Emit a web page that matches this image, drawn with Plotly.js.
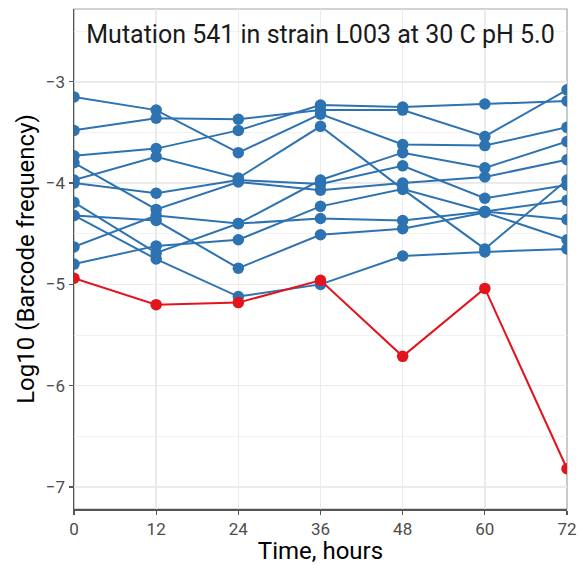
<!DOCTYPE html>
<html>
<head>
<meta charset="utf-8">
<script src="https://cdn.plot.ly/plotly-3.0.1.min.js"></script>
<style>
  html, body { margin: 0; padding: 0; background: #ffffff; }
  #chart { width: 579px; height: 565px; }
</style>
</head>
<body>
<div id="chart"></div>
<script>
// Time points (hours)
const hours = [0, 12, 24, 36, 48, 60, 72];

// Log10 barcode frequency of the other barcodes (blue)
const barcodeA = [-3.15, -3.28, -3.70, -3.32, -3.62, -3.63, -3.45];
const barcodeB = [-3.48, -3.36, -3.37, -3.28, -3.28, -3.54, -3.08];
const barcodeC = [-3.73, -3.66, -3.48, -3.23, -3.25, -3.22, -3.19];
const barcodeD = [-3.97, -3.74, -3.95, -3.44, -4.06, -4.65, -3.97];
const barcodeE = [-3.80, -4.26, -3.99, -4.07, -4.00, -3.94, -3.77];
const barcodeF = [-4.00, -4.10, -3.97, -4.01, -3.83, -4.15, -4.02];
const barcodeG = [-4.19, -4.69, -4.40, -4.35, -4.37, -4.28, -4.36];
const barcodeH = [-4.32, -4.37, -4.84, -4.51, -4.45, -4.29, -4.56];
const barcodeI = [-4.63, -4.32, -4.40, -3.97, -3.70, -3.85, -3.59];
const barcodeJ = [-4.80, -4.62, -4.56, -4.23, -4.06, -4.28, -4.17];
const barcodeK = [-4.32, -4.75, -5.12, -5.00, -4.72, -4.68, -4.65];

// Highlighted mutation barcode (red)
const mutation541 = [-4.94, -5.20, -5.18, -4.96, -5.71, -5.04, -6.82];

const blueSeries = [barcodeA, barcodeB, barcodeC, barcodeD, barcodeE, barcodeF,
                    barcodeG, barcodeH, barcodeI, barcodeJ, barcodeK];

const xTicks = [0, 12, 24, 36, 48, 60, 72];
const yTicks = [-7, -6, -5, -4, -3];
const yTickText = ['\u22127', '\u22126', '\u22125', '\u22124', '\u22123'];

const titleText = 'Mutation 541 in strain L003 at 30 C pH 5.0';
const xTitle = 'Time, hours';
const yTitle = 'Log10 (Barcode frequency)';

const BLUE = '#2d73b2';
const RED = '#e3141c';

const traces = blueSeries.map(vals => ({
  x: hours, y: vals, type: 'scatter', mode: 'lines+markers',
  line: {color: BLUE, width: 2},
  marker: {color: BLUE, size: 11.5},
  hoverinfo: 'skip', showlegend: false
}));
traces.push({
  x: hours, y: mutation541, type: 'scatter', mode: 'lines+markers',
  line: {color: RED, width: 2},
  marker: {color: RED, size: 11.5},
  hoverinfo: 'skip', showlegend: false
});

const layout = {
  width: 579, height: 565,
  margin: {l: 74, r: 12, t: 9, b: 56, pad: 0},
  paper_bgcolor: '#ffffff',
  plot_bgcolor: '#ffffff',
  font: {family: 'Roboto, "Open Sans", sans-serif', color: '#000000'},
  showlegend: false,
  title: {
    text: titleText,
    font: {size: 25, color: '#1a1a1a', family: 'Roboto, sans-serif'},
    x: 0.5, xref: 'paper', xanchor: 'center',
    y: 1 - 34/565, yref: 'container', yanchor: 'middle'
  },
  xaxis: {
    range: [0, 72],
    tickvals: xTicks,
    ticktext: xTicks.map(String),
    showgrid: true, gridcolor: '#ebebeb', gridwidth: 1.5,
    zeroline: false,
    showline: true, linecolor: '#555555', linewidth: 1.5,
    ticks: 'outside', ticklen: 4, tickwidth: 1.2, tickcolor: '#555555',
    tickfont: {size: 17, color: '#4d4d4d'},
    title: {text: xTitle, font: {size: 24, color: '#000000'}, standoff: 6}
  },
  yaxis: {
    range: [-7.217, -2.282],
    tickvals: yTicks,
    ticktext: yTickText,
    showgrid: true, gridcolor: '#ebebeb', gridwidth: 1.5,
    minor: {dtick: 0.5, tick0: -7, showgrid: true, gridcolor: '#f2f2f2', gridwidth: 1, ticks: ''},
    zeroline: false,
    showline: true, linecolor: '#555555', linewidth: 1.5,
    ticks: 'outside', ticklen: 4, tickwidth: 1.2, tickcolor: '#555555',
    tickfont: {size: 17, color: '#4d4d4d'},
    title: {text: yTitle, font: {size: 24, color: '#000000'}, standoff: 4}
  },
  shapes: [{
    type: 'rect', xref: 'paper', yref: 'paper', x0: 0, x1: 1, y0: 0, y1: 1,
    line: {color: '#a6a6a6', width: 1.2}, fillcolor: 'rgba(0,0,0,0)', layer: 'below'
  }]
};

Plotly.newPlot('chart', traces, layout, {staticPlot: true, displayModeBar: false});
</script>
</body>
</html>
